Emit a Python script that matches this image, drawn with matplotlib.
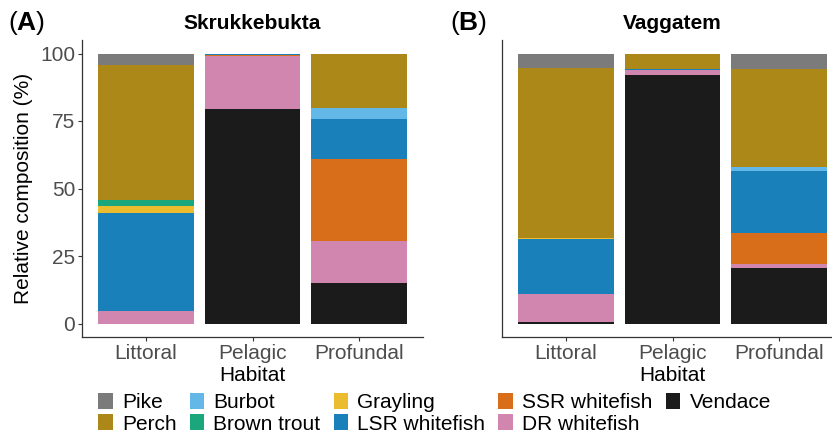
import numpy as np
import matplotlib
matplotlib.use("Agg")
import matplotlib.pyplot as plt
from matplotlib.patches import Patch

plt.rcParams['font.family'] = ['Liberation Sans', 'DejaVu Sans']
plt.rcParams['mathtext.fontset'] = 'custom'
plt.rcParams['mathtext.rm'] = 'Liberation Sans'
plt.rcParams['mathtext.bf'] = 'Liberation Sans:bold'

# habitats on the x axis
habitats = ["Littoral", "Pelagic", "Profundal"]
# species, top of stack first (legend order)
species = ["Pike", "Perch", "Burbot", "Brown trout", "Grayling",
           "LSR whitefish", "SSR whitefish", "DR whitefish", "Vendace"]
colors = ["#7b7b7b", "#ac8818", "#63b8e8", "#1aa77c", "#ebbd2e",
          "#1a80ba", "#d96e1a", "#d186b0", "#1b1b1b"]

# relative composition (%) per species, columns = Littoral, Pelagic, Profundal
skrukkebukta = [[4.1, 0.0, 0.0],
                [50.0, 0.0, 20.0],
                [0.0, 0.0, 4.2],
                [2.2, 0.0, 0.0],
                [2.7, 0.0, 0.0],
                [36.4, 0.4, 14.8],
                [0.0, 0.4, 30.3],
                [4.6, 19.9, 15.6],
                [0.0, 79.3, 15.1]]

vaggatem = [[5.2, 0.0, 5.8],
            [63.2, 5.6, 36.1],
            [0.0, 0.0, 1.8],
            [0.0, 0.0, 0.0],
            [0.2, 0.0, 0.0],
            [20.4, 0.5, 22.7],
            [0.0, 0.0, 11.4],
            [10.6, 1.9, 1.8],
            [0.4, 92.0, 20.4]]

W, H = 832, 434
fig = plt.figure(figsize=(W / 100, H / 100), dpi=100)
axA = fig.add_axes([82 / W, (H - 337) / H, 341 / W, 297 / H])
axB = fig.add_axes([502 / W, (H - 337) / H, 341 / W, 297 / H])

grey_txt = "#4d4d4d"


def stacked(ax, data, title):
    X_axis = np.arange(len(habitats))
    bottom = np.zeros(len(habitats))
    # stack from the bottom: last species first
    for i in range(len(species) - 1, -1, -1):
        vals = np.array(data[i])
        ax.bar(X_axis, vals, 0.9, bottom=bottom, color=colors[i], linewidth=0)
        bottom += vals
    ax.set_xlim(-0.6, 2.6)
    ax.set_ylim(-5, 105)
    ax.set_xticks(X_axis, habitats)
    ax.set_xlabel("Habitat", fontsize=15, color="black", labelpad=2)
    ax.set_title(title, fontsize=15, fontweight="bold", pad=8)
    for s in ["top", "right"]:
        ax.spines[s].set_visible(False)
    for s in ["left", "bottom"]:
        ax.spines[s].set_color("#333333")
        ax.spines[s].set_linewidth(0.9)
    ax.tick_params(axis="both", labelsize=15, labelcolor=grey_txt,
                   color="#333333", length=3, width=0.8, pad=2)


stacked(axA, skrukkebukta, "Skrukkebukta")
stacked(axB, vaggatem, "Vaggatem")

axA.set_yticks([0, 25, 50, 75, 100])
axA.set_ylabel("Relative composition (%)", fontsize=15, labelpad=5)
axB.set_yticks([])

fig.text(8 / W, (H - 23) / H, r"($\mathbf{A}$)", fontsize=19, va="center", ha="left")
fig.text(450 / W, (H - 23) / H, r"($\mathbf{B}$)", fontsize=19, va="center", ha="left")

handles = [Patch(facecolor=c, edgecolor="none") for c in colors]
fig.legend(handles, species, ncol=5, loc="upper left",
           bbox_to_anchor=(98 / W, (H - 393) / H), frameon=False,
           fontsize=15, handlelength=0.7, handleheight=0.8,
           handletextpad=0.45, columnspacing=0.62, labelspacing=0.1,
           borderpad=0, borderaxespad=0)

fig.savefig("out.png", dpi=100)
